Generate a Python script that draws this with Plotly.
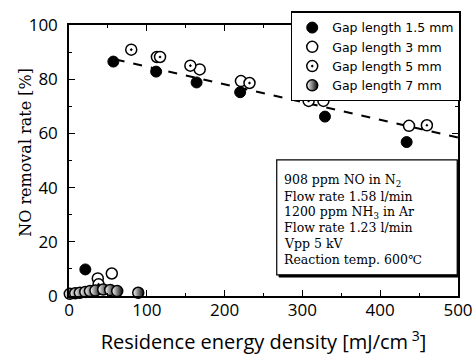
import plotly.graph_objects as go

# ---- data ----
gap15_x = [21, 57, 112, 164, 220, 329, 434]
gap15_y = [9.8, 86.5, 82.8, 78.8, 75.2, 66.2, 56.8]

gap3_x = [37, 55, 113, 168, 221, 327, 437]
gap3_y = [6.5, 8.3, 88.2, 83.6, 79.3, 72.0, 62.8]

gap5_x = [38, 80, 117, 156, 232, 308, 460]
gap5_y = [4.3, 90.9, 88.2, 85.0, 78.6, 72.0, 63.0]

gap7_x = [1, 8, 14, 21, 27, 34, 44, 53, 62, 89]
gap7_y = [0.8, 1.0, 1.2, 1.5, 1.8, 2.0, 2.4, 2.2, 1.8, 1.2]

fit_x = [60, 500]
fit_y = [87.3, 58.5]

info_lines = [
    "908 ppm NO in N<sub>2</sub>",
    "Flow rate 1.58 l/min",
    "1200 ppm NH<sub>3</sub> in Ar",
    "Flow rate 1.23 l/min",
    "Vpp 5 kV",
    "Reaction temp. 600℃",
]
info_y = [42.5, 36.7, 30.9, 25.1, 19.3, 13.5]

x_ticks = [0, 100, 200, 300, 400, 500]
y_ticks = [0, 20, 40, 60, 80, 100]

SANS = "Open Sans"
SERIF = "DejaVu Serif"

fig = go.Figure()

fig.add_trace(go.Scatter(
    x=fit_x, y=fit_y, mode="lines", showlegend=False, hoverinfo="skip",
    line=dict(color="black", width=2, dash="dash")))

fig.add_trace(go.Scatter(
    x=gap15_x, y=gap15_y, mode="markers", name="Gap length 1.5 mm",
    cliponaxis=False,
    marker=dict(symbol="circle", size=11, color="black",
                line=dict(color="black", width=1))))

fig.add_trace(go.Scatter(
    x=gap3_x, y=gap3_y, mode="markers", name="Gap length 3 mm",
    cliponaxis=False,
    marker=dict(symbol="circle", size=11, color="white",
                line=dict(color="black", width=1.5))))

fig.add_trace(go.Scatter(
    x=gap5_x, y=gap5_y, mode="markers", name="Gap length 5 mm",
    cliponaxis=False,
    marker=dict(symbol="circle-dot", size=11, color="white",
                line=dict(color="black", width=1.5))))

fig.add_trace(go.Scatter(
    x=gap7_x, y=gap7_y, mode="markers", name="Gap length 7 mm",
    cliponaxis=False,
    marker=dict(symbol="circle", size=11, color="white",
                gradient=dict(type="horizontal", color="black"),
                line=dict(color="black", width=1.5))))

# info box (shadow + box)
fig.add_shape(type="rect", xref="x", yref="y", x0=270, x1=501.5, y0=7.0, y1=49.5,
              fillcolor="black", line=dict(color="black", width=1), layer="above")
fig.add_shape(type="rect", xref="x", yref="y", x0=267, x1=499, y0=7.8, y1=50.2,
              fillcolor="white", line=dict(color="black", width=1.2), layer="above")

for txt, yy in zip(info_lines, info_y):
    fig.add_annotation(x=274, y=yy, xref="x", yref="y", text=txt,
                       showarrow=False, xanchor="left", yanchor="middle",
                       font=dict(family=SERIF, size=12.5, color="black"))

# y-axis title
fig.add_annotation(x=-0.112, y=0.53, xref="paper", yref="paper",
                   text="NO removal rate [%]", textangle=-90, showarrow=False,
                   xanchor="center", yanchor="middle",
                   font=dict(family=SERIF, size=16, color="black"))

axis_common = dict(
    showline=True, linecolor="black", linewidth=1.5, mirror="allticks",
    ticks="inside", ticklen=6, tickwidth=1.2, tickcolor="black",
    showgrid=False, zeroline=False, automargin=False,
    tickfont=dict(family=SANS, size=17, color="black"),
)

fig.update_xaxes(
    range=[0, 500], tickvals=x_ticks, ticktext=[str(v) for v in x_ticks],
    minor=dict(dtick=50, ticks="inside", ticklen=3, tickcolor="black", tickwidth=1),
    ticklabelstandoff=-2,
    title=dict(text="Residence energy density [mJ/cm<sup> 3</sup>]",
               font=dict(family=SANS, size=20, color="black"), standoff=16),
    **axis_common)

fig.update_yaxes(
    range=[0, 100], tickvals=y_ticks, ticktext=[str(v) for v in y_ticks],
    minor=dict(dtick=10, ticks="inside", ticklen=3, tickcolor="black", tickwidth=1),
    ticklabelstandoff=6,
    **axis_common)

fig.update_layout(
    width=476, height=355,
    margin=dict(l=69, r=18, t=25, b=59, autoexpand=False),
    paper_bgcolor="white", plot_bgcolor="white",
    legend=dict(x=0.57, y=1.05, xanchor="left", yanchor="top",
                bgcolor="white", bordercolor="black", borderwidth=1.5,
                font=dict(family="DejaVu Sans", size=12.5, color="black"),
                tracegroupgap=0, itemwidth=30),
)

fig.write_html("out.html", config={"displayModeBar": False},
               post_script="document.body.style.margin='0';document.body.style.padding='0';")
